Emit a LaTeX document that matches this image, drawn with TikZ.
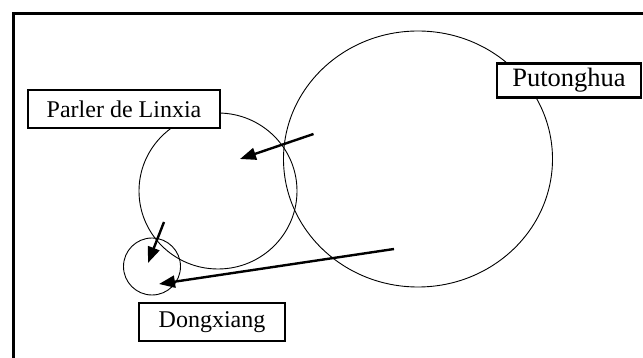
\documentclass[tikz,border=0pt]{standalone}
\usepackage{fontspec}
\setmainfont{Liberation Serif}
\usetikzlibrary{shapes.geometric,arrows.meta}
\tikzset{
  ring/.style={ellipse, draw, line width=0.9pt, inner sep=0pt},
  label box/.style={draw, line width=2.2pt, fill=white, inner sep=0pt, font=\fontsize{24}{26}\selectfont},
  pointer/.style={line width=2.4pt, -{Triangle[length=16pt,width=12pt]}},
  frameline/.style={line width=3pt}
}
\begin{document}
\begin{tikzpicture}[x=1pt,y=-1pt]
\useasboundingbox (0,0) rectangle (643,358);
\draw[frameline] (13.5,358) -- (13.5,13.5) -- (643,13.5);
% circles
\node[ring, minimum width=269pt, minimum height=256pt] (pth) at (418,159) {};
\node[ring, minimum width=158pt, minimum height=156pt] (lx) at (218,191) {};
\node[ring, minimum width=57pt, minimum height=57pt] (dx) at (152,266.5) {};
% arrow endpoints
\coordinate (a1s) at (313.5,134);
\coordinate (a1e) at (240,159);
\coordinate (a2s) at (164,222);
\coordinate (a2e) at (148,263);
\coordinate (a3s) at (394,249);
\coordinate (a3e) at (159,284);
\draw[pointer] (a1s) -- (a1e);
\draw[pointer] (a2s) -- (a2e);
\draw[pointer] (a3s) -- (a3e);
% labels
\node[label box, minimum width=192pt, minimum height=38pt] (lxl) at (124,109) {Parler de Linxia};
\node[label box, minimum width=144pt, minimum height=34pt, font=\fontsize{26.5}{28}\selectfont] (pthl) at (569,80.5) {Putonghua};
\node[label box, minimum width=146pt, minimum height=38pt] (dxl) at (212,322) {Dongxiang};
\end{tikzpicture}
\end{document}
